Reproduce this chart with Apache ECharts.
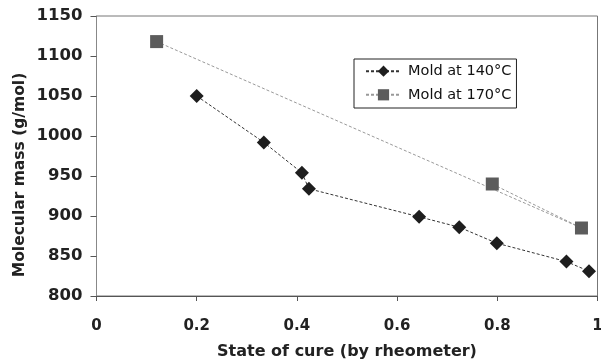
<!DOCTYPE html>
<html><head><meta charset="utf-8">
<script src="https://cdn.jsdelivr.net/npm/echarts@6/dist/echarts.min.js"></script>
<style>html,body{margin:0;padding:0;background:#fff}#c{width:601px;height:361px}</style>
</head><body><div id="c"></div>
<script>
var xTitle = 'State of cure (by rheometer)';
var yTitle = 'Molecular mass (g/mol)';
var names = ['Mold at 140°C', 'Mold at 170°C'];
var cure140 = [0.2, 0.334, 0.41, 0.424, 0.644, 0.724, 0.799, 0.938, 0.983];
var mass140 = [1050, 992, 954, 934, 899, 886, 866, 843, 831];
var cure170 = [0.12, 0.968, 0.79];
var mass170 = [1118, 885, 940];

function pairs(xs, ys){ return xs.map(function(x,i){return [x, ys[i]];}); }
var font = 'DejaVu Sans, sans-serif';
var chart = echarts.init(document.getElementById('c'));
chart.setOption({
  animation:false,
  grid:{left:96.5, right:3.5, top:16, bottom:65, show:true, borderColor:'#777', borderWidth:1,
        containLabel:false, outerBoundsMode:'none'},
  legend:{
    left:354, top:59, orient:'vertical', itemGap:8.6, itemWidth:35, itemHeight:14,
    padding:[4.7,5,5.7,11], borderColor:'#222', borderWidth:1, backgroundColor:'#fff',
    textStyle:{fontFamily:font, fontSize:14.5, color:'#111', padding:[0,0,0,2]},
    data:names
  },
  graphic:[{type:'text', x:20, y:175, rotation:Math.PI/2,
    style:{text:yTitle, font:'bold 15.5px DejaVu Sans', fill:'#222', textAlign:'center', textVerticalAlign:'middle'}}],
  xAxis:{type:'value', min:0, max:1, interval:0.2,
    name:xTitle, nameLocation:'middle', nameGap:48,
    nameTextStyle:{fontFamily:font, fontSize:16, fontWeight:'bold', color:'#222'},
    axisLine:{lineStyle:{color:'#555'}}, axisTick:{show:true, length:5, lineStyle:{color:'#555'}},
    axisLabel:{fontFamily:font, fontSize:15, fontWeight:'bold', color:'#222', margin:23,
      formatter:function(v){return v===0||v===1? String(v) : v.toFixed(1);}},
    splitLine:{show:false}},
  yAxis:{type:'value', min:800, max:1150, interval:50,
    axisLine:{show:true, lineStyle:{color:'#888'}}, axisTick:{show:true, length:6, lineStyle:{color:'#555'}},
    axisLabel:{fontFamily:font, fontSize:16.5, fontWeight:'bold', color:'#222', margin:14,
      formatter:function(v){return String(v);}},
    splitLine:{show:false}},
  series:[
    {name:names[0], type:'line', data:pairs(cure140, mass140), symbol:'diamond', symbolSize:14,
     itemStyle:{color:'#1e1e1e'}, lineStyle:{color:'#333', width:1, type:[3,2]}},
    {name:names[1], type:'line', data:pairs(cure170, mass170), symbol:'rect', symbolSize:13,
     itemStyle:{color:'#5c5c5c'}, lineStyle:{color:'#999', width:1, type:[3,2]}}
  ]
});
</script></body></html>
